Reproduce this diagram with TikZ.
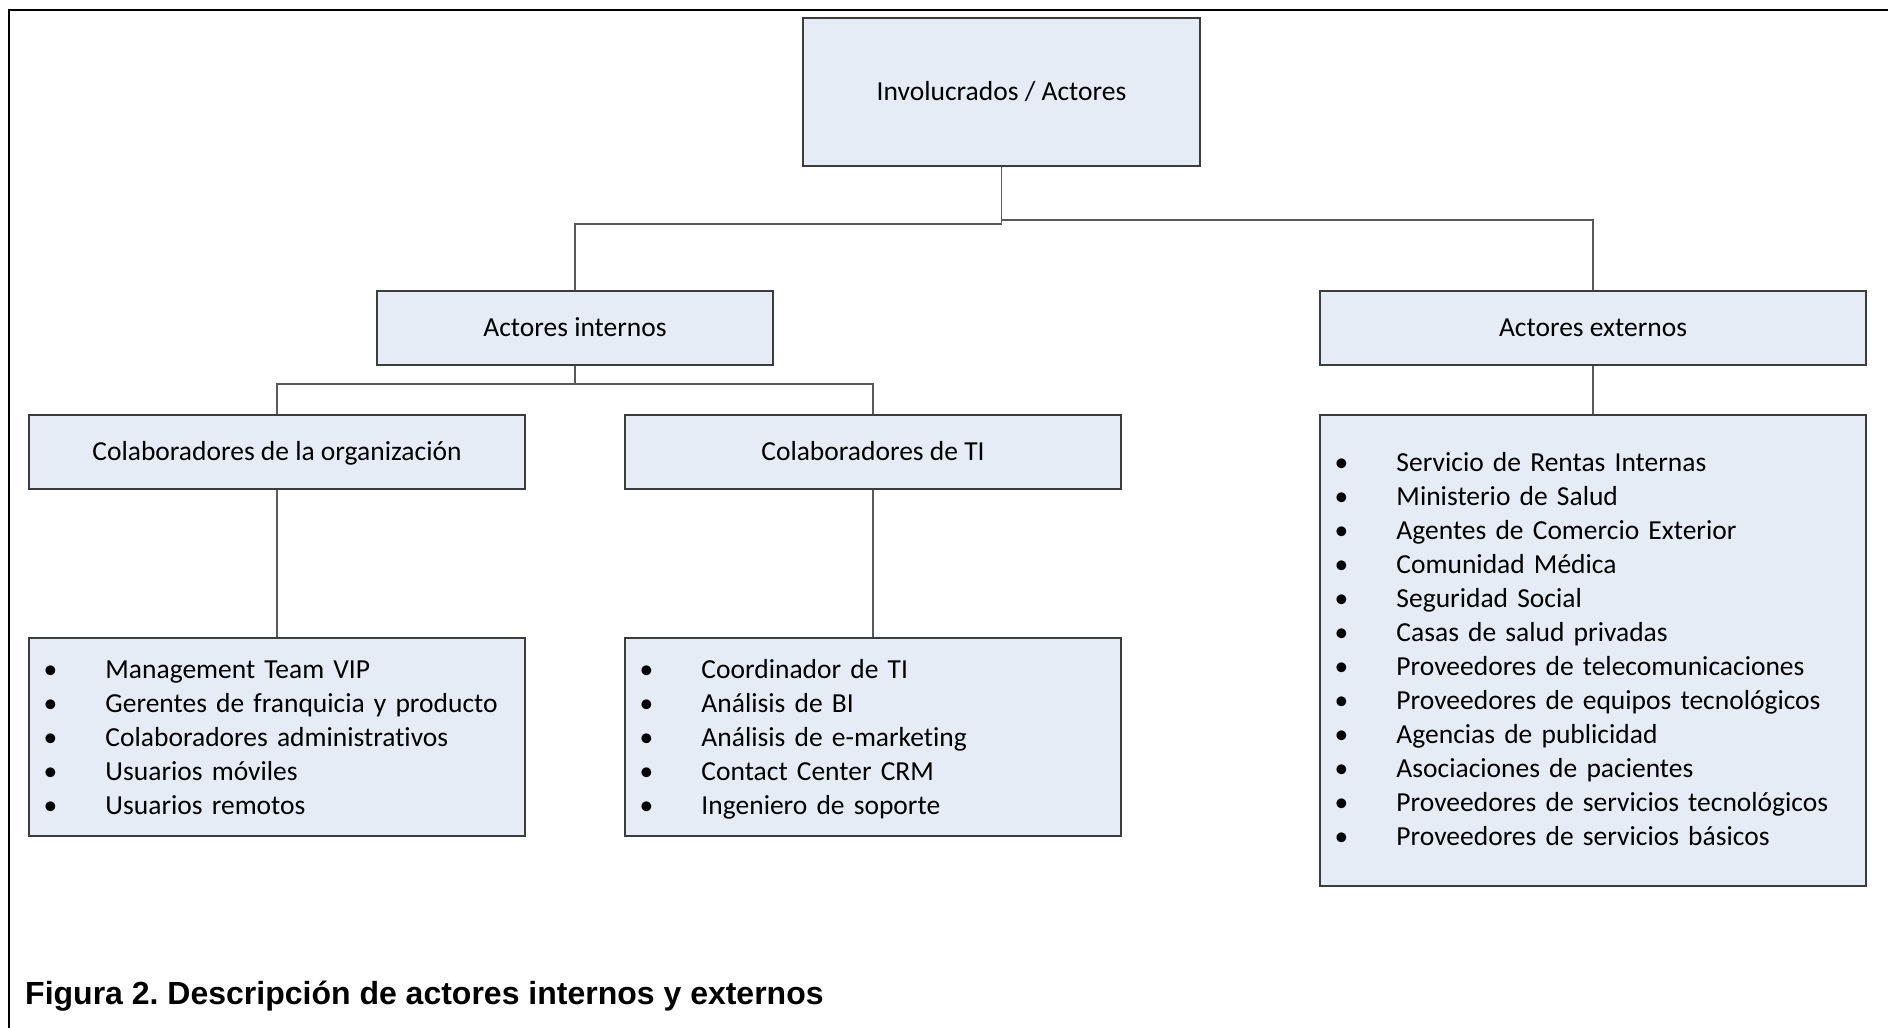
\documentclass[tikz,border=0pt]{standalone}
\usepackage{fontspec}
\setmainfont{Carlito}[Ligatures=NoCommon]
\newfontfamily\capfont{Liberation Sans}
\usetikzlibrary{calc}

\definecolor{boxfill}{RGB}{229,236,246}
\definecolor{boxline}{RGB}{60,60,60}
\definecolor{linkline}{RGB}{90,90,90}

% one bullet line of a list
\newcommand{\itm}[1]{\strut\makebox[62pt][l]{\textbullet}#1}

\begin{document}
\frenchspacing
\begin{tikzpicture}[x=1pt,y=-1pt,
  box/.style={draw=boxline, line width=1.4pt, fill=boxfill, inner sep=0pt,
    font=\fontsize{27.5}{34}\selectfont},
  head/.style={box, text height=17.7pt, text depth=0pt},
  items/.style={anchor=north west, inner sep=0pt, align=left,
    font=\fontsize{27.5}{34}\selectfont},
  link/.style={draw=linkline, line width=1.6pt}]

\useasboundingbox (0,0) rectangle (1888,1028);

% outer frame (top and left edges)
\draw[line width=2.2pt] (9,1028) -- (9,10) -- (1888,10);

% hierarchy boxes
\node[head, minimum width=397pt, minimum height=148pt] (root) at (1001.5,92) {Involucrados / Actores};
\node[head, minimum width=396pt, minimum height=74pt] (int) at (575,328) {Actores internos};
\node[head, minimum width=546pt, minimum height=74pt] (ext) at (1593,328) {Actores externos};
\node[head, minimum width=496pt, minimum height=74pt] (org) at (277,452) {Colaboradores de la organización};
\node[head, minimum width=496pt, minimum height=74pt] (ti) at (873,452) {Colaboradores de TI};

% list boxes
\node[box, minimum width=496pt, minimum height=198pt] (orglist) at (277,737) {};
\node[box, minimum width=496pt, minimum height=198pt] (tilist) at (873,737) {};
\node[box, minimum width=546pt, minimum height=471pt] (extlist) at (1593,650.5) {};

% list contents
\node[items, text width=466pt] (orgitems) at ($(orglist.north west)+(15,17.6)$) {%
  \itm{Management Team VIP}\\
  \itm{Gerentes de franquicia y producto}\\
  \itm{Colaboradores administrativos}\\
  \itm{Usuarios móviles}\\
  \itm{Usuarios remotos}};
\node[items, text width=466pt] (tiitems) at ($(tilist.north west)+(15,17.6)$) {%
  \itm{Coordinador de TI}\\
  \itm{Análisis de BI}\\
  \itm{Análisis de e-marketing}\\
  \itm{Contact Center CRM}\\
  \itm{Ingeniero de soporte}};
\node[items, text width=516pt] (extitems) at ($(extlist.north west)+(15,33.6)$) {%
  \itm{Servicio de Rentas Internas}\\
  \itm{Ministerio de Salud}\\
  \itm{Agentes de Comercio Exterior}\\
  \itm{Comunidad Médica}\\
  \itm{Seguridad Social}\\
  \itm{Casas de salud privadas}\\
  \itm{Proveedores de telecomunicaciones}\\
  \itm{Proveedores de equipos tecnológicos}\\
  \itm{Agencias de publicidad}\\
  \itm{Asociaciones de pacientes}\\
  \itm{Proveedores de servicios tecnológicos}\\
  \itm{Proveedores de servicios básicos}};

% connectors
\draw[link] (root.south) -- ++(0,57) -| (int.north);
\draw[link] (root.south) -- ++(0,53) -| (ext.north);
\draw[link] (int.south) -- ++(0,18) -| (org.north);
\draw[link] (int.south) -- ++(0,18) -| (ti.north);
\draw[link] (org.south) -- (orglist.north);
\draw[link] (ti.south) -- (tilist.north);
\draw[link] (ext.south) -- (extlist.north);

% caption
\node[anchor=base west, inner sep=0pt, font=\capfont\bfseries\fontsize{32}{36}\selectfont] (caption) at (25,1004)
  {Figura 2. Descripción de actores internos y externos};
\end{tikzpicture}
\end{document}
